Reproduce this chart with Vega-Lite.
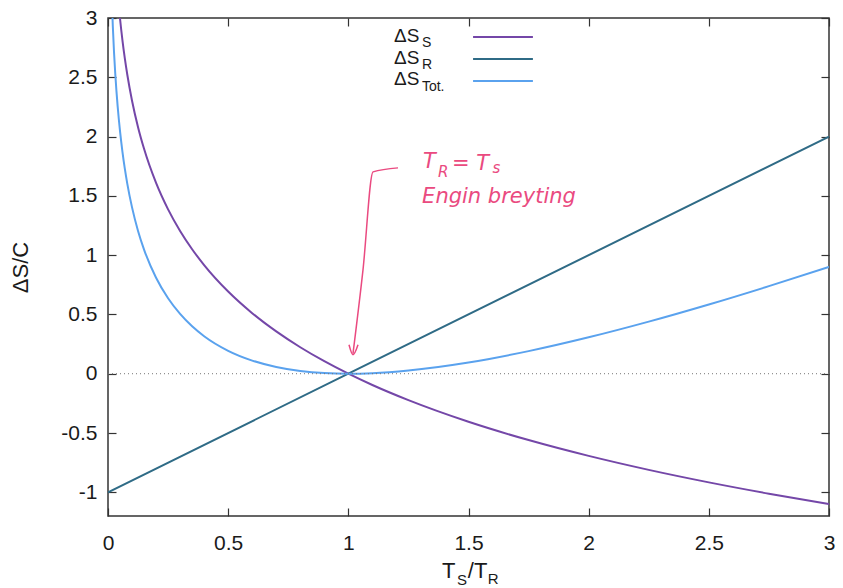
{
  "$schema": "https://vega.github.io/schema/vega-lite/v6.json",
  "width": 721,
  "height": 498,
  "autosize": {"type": "none"},
  "padding": {"left": 108, "top": 18, "right": 14, "bottom": 72},
  "background": "white",
  "config": {
    "font": "Liberation Sans",
    "view": {"stroke": "#333333", "strokeWidth": 1.5},
    "axis": {
      "grid": false,
      "domain": false,
      "tickColor": "#333333",
      "tickWidth": 1.2,
      "labelFont": "Liberation Sans",
      "labelFontSize": 21,
      "labelColor": "#1a1a1a",
      "titleFont": "Liberation Sans",
      "titleFontWeight": "normal",
      "titleFontSize": 22,
      "titleColor": "#1a1a1a"
    }
  },
  "datasets": {
    "curves": [
      {"x": 0.015, "y": 4.1997, "s": "S"},
      {"x": 0.02, "y": 3.912, "s": "S"},
      {"x": 0.025, "y": 3.6889, "s": "S"},
      {"x": 0.03, "y": 3.5066, "s": "S"},
      {"x": 0.035, "y": 3.3524, "s": "S"},
      {"x": 0.04, "y": 3.2189, "s": "S"},
      {"x": 0.045, "y": 3.1011, "s": "S"},
      {"x": 0.05, "y": 2.9957, "s": "S"},
      {"x": 0.06, "y": 2.8134, "s": "S"},
      {"x": 0.07, "y": 2.6593, "s": "S"},
      {"x": 0.08, "y": 2.5257, "s": "S"},
      {"x": 0.1, "y": 2.3026, "s": "S"},
      {"x": 0.125, "y": 2.0794, "s": "S"},
      {"x": 0.15, "y": 1.8971, "s": "S"},
      {"x": 0.2, "y": 1.6094, "s": "S"},
      {"x": 0.25, "y": 1.3863, "s": "S"},
      {"x": 0.3, "y": 1.204, "s": "S"},
      {"x": 0.35, "y": 1.0498, "s": "S"},
      {"x": 0.4, "y": 0.9163, "s": "S"},
      {"x": 0.5, "y": 0.6931, "s": "S"},
      {"x": 0.6, "y": 0.5108, "s": "S"},
      {"x": 0.7, "y": 0.3567, "s": "S"},
      {"x": 0.8, "y": 0.2231, "s": "S"},
      {"x": 0.9, "y": 0.1054, "s": "S"},
      {"x": 1.0, "y": 0.0, "s": "S"},
      {"x": 1.1, "y": -0.0953, "s": "S"},
      {"x": 1.25, "y": -0.2231, "s": "S"},
      {"x": 1.5, "y": -0.4055, "s": "S"},
      {"x": 1.75, "y": -0.5596, "s": "S"},
      {"x": 2.0, "y": -0.6931, "s": "S"},
      {"x": 2.25, "y": -0.8109, "s": "S"},
      {"x": 2.5, "y": -0.9163, "s": "S"},
      {"x": 2.75, "y": -1.0116, "s": "S"},
      {"x": 3.0, "y": -1.0986, "s": "S"},
      {"x": 0.0, "y": -1.0, "s": "R"},
      {"x": 1.0, "y": 0.0, "s": "R"},
      {"x": 3.0, "y": 2.0, "s": "R"},
      {"x": 0.01, "y": 3.6152, "s": "Tot"},
      {"x": 0.015, "y": 3.2147, "s": "Tot"},
      {"x": 0.02, "y": 2.932, "s": "Tot"},
      {"x": 0.025, "y": 2.7139, "s": "Tot"},
      {"x": 0.03, "y": 2.5366, "s": "Tot"},
      {"x": 0.035, "y": 2.3874, "s": "Tot"},
      {"x": 0.04, "y": 2.2589, "s": "Tot"},
      {"x": 0.045, "y": 2.1461, "s": "Tot"},
      {"x": 0.05, "y": 2.0457, "s": "Tot"},
      {"x": 0.06, "y": 1.8734, "s": "Tot"},
      {"x": 0.07, "y": 1.7293, "s": "Tot"},
      {"x": 0.08, "y": 1.6057, "s": "Tot"},
      {"x": 0.1, "y": 1.4026, "s": "Tot"},
      {"x": 0.125, "y": 1.2044, "s": "Tot"},
      {"x": 0.15, "y": 1.0471, "s": "Tot"},
      {"x": 0.2, "y": 0.8094, "s": "Tot"},
      {"x": 0.25, "y": 0.6363, "s": "Tot"},
      {"x": 0.3, "y": 0.504, "s": "Tot"},
      {"x": 0.35, "y": 0.3998, "s": "Tot"},
      {"x": 0.4, "y": 0.3163, "s": "Tot"},
      {"x": 0.5, "y": 0.1931, "s": "Tot"},
      {"x": 0.6, "y": 0.1108, "s": "Tot"},
      {"x": 0.7, "y": 0.0567, "s": "Tot"},
      {"x": 0.8, "y": 0.0231, "s": "Tot"},
      {"x": 0.9, "y": 0.0054, "s": "Tot"},
      {"x": 1.0, "y": 0.0, "s": "Tot"},
      {"x": 1.1, "y": 0.0047, "s": "Tot"},
      {"x": 1.25, "y": 0.0269, "s": "Tot"},
      {"x": 1.5, "y": 0.0945, "s": "Tot"},
      {"x": 1.75, "y": 0.1904, "s": "Tot"},
      {"x": 2.0, "y": 0.3069, "s": "Tot"},
      {"x": 2.25, "y": 0.4391, "s": "Tot"},
      {"x": 2.5, "y": 0.5837, "s": "Tot"},
      {"x": 2.75, "y": 0.7384, "s": "Tot"},
      {"x": 3.0, "y": 0.9014, "s": "Tot"}
    ],
    "legendLines": [
      {"x": 1.519, "x2": 1.768, "y": 2.839, "s": "S"},
      {"x": 1.519, "x2": 1.768, "y": 2.654, "s": "R"},
      {"x": 1.519, "x2": 1.768, "y": 2.468, "s": "Tot"}
    ],
    "legendText": [
      {"x": 1.19, "y": 2.797, "t": "ΔS"},
      {"x": 1.19, "y": 2.612, "t": "ΔS"},
      {"x": 1.19, "y": 2.435, "t": "ΔS"}
    ],
    "legendSub": [
      {"x": 1.306, "y": 2.752, "t": "S"},
      {"x": 1.306, "y": 2.566, "t": "R"},
      {"x": 1.306, "y": 2.385, "t": "Tot."}
    ],
    "titleText": [
      {"x": 1.39, "y": -1.72, "t": "T"},
      {"x": 1.497, "y": -1.72, "t": "/T"}
    ],
    "titleSub": [
      {"x": 1.452, "y": -1.785, "t": "S"},
      {"x": 1.58, "y": -1.77, "t": "R"}
    ],
    "arrow": [
      {"x": 1.2067, "y": 1.736, "o": 1, "g": "shaft"},
      {"x": 1.1027, "y": 1.702, "o": 2, "g": "shaft"},
      {"x": 1.061, "y": 0.876, "o": 3, "g": "shaft"},
      {"x": 1.0194, "y": 0.17, "o": 4, "g": "shaft"},
      {"x": 1.0028, "y": 0.244, "o": 1, "g": "head"},
      {"x": 1.0194, "y": 0.16, "o": 2, "g": "head"},
      {"x": 1.0402, "y": 0.244, "o": 3, "g": "head"}
    ],
    "noteBig": [
      {"x": 1.311, "y": 1.736, "t": "T"},
      {"x": 1.431, "y": 1.72, "t": "= T"},
      {"x": 1.307, "y": 1.441, "t": "Engin breyting"}
    ],
    "noteSmall": [
      {"x": 1.373, "y": 1.66, "t": "R"},
      {"x": 1.6, "y": 1.694, "t": "s"}
    ]
  },
  "resolve": {"axis": {"x": "independent", "y": "independent"}},
  "layer": [
    {
      "data": {"name": "curves"},
      "mark": {"type": "line", "strokeWidth": 2, "clip": true, "interpolate": "monotone"},
      "encoding": {
        "x": {"field": "x", "type": "quantitative",
          "scale": {"domain": [0, 3], "nice": false, "zero": false},
          "axis": {"values": [0, 0.5, 1, 1.5, 2, 2.5, 3], "labelExpr": "'' + datum.value", "title": null, "tickSize": -8, "labelPadding": 24, "labelFlush": false}},
        "y": {"field": "y", "type": "quantitative",
          "scale": {"domain": [-1.2, 3], "nice": false, "zero": false},
          "axis": {"values": [-1, -0.5, 0, 0.5, 1, 1.5, 2, 2.5, 3], "labelExpr": "'' + datum.value", "title": "ΔS/C", "tickSize": -8, "labelPadding": 19, "titlePadding": 28, "labelFlush": false}},
        "color": {"field": "s", "type": "nominal",
          "scale": {"domain": ["S", "R", "Tot"], "range": ["#7447a8", "#2f6b86", "#5aa2ee"]},
          "legend": null}
      }
    },
    {
      "data": {"name": "curves"},
      "mark": {"type": "point", "opacity": 0},
      "encoding": {
        "x": {"field": "x", "type": "quantitative",
          "axis": {"orient": "top", "values": [0, 0.5, 1, 1.5, 2, 2.5, 3], "labels": false, "title": null, "tickSize": -8}},
        "y": {"field": "y", "type": "quantitative",
          "axis": {"orient": "right", "values": [-1, -0.5, 0, 0.5, 1, 1.5, 2, 2.5, 3], "labels": false, "title": null, "tickSize": -8}}
      }
    },
    {
      "data": {"values": [{"y": 0}]},
      "mark": {"type": "rule", "color": "#777777", "strokeWidth": 1, "strokeDash": [1, 3]},
      "encoding": {"y": {"field": "y", "type": "quantitative", "axis": null}}
    },
    {
      "data": {"name": "legendLines"},
      "mark": {"type": "rule", "strokeWidth": 2},
      "encoding": {
        "x": {"field": "x", "type": "quantitative", "axis": null},
        "x2": {"field": "x2"},
        "y": {"field": "y", "type": "quantitative", "axis": null},
        "color": {"field": "s", "type": "nominal", "legend": null}
      }
    },
    {
      "data": {"name": "legendText"},
      "mark": {"type": "text", "align": "left", "baseline": "alphabetic", "fontSize": 19, "color": "#1a1a1a"},
      "encoding": {
        "x": {"field": "x", "type": "quantitative", "axis": null},
        "y": {"field": "y", "type": "quantitative", "axis": null},
        "text": {"field": "t"}
      }
    },
    {
      "data": {"name": "legendSub"},
      "mark": {"type": "text", "align": "left", "baseline": "alphabetic", "fontSize": 14, "color": "#1a1a1a"},
      "encoding": {
        "x": {"field": "x", "type": "quantitative", "axis": null},
        "y": {"field": "y", "type": "quantitative", "axis": null},
        "text": {"field": "t"}
      }
    },
    {
      "data": {"name": "titleText"},
      "mark": {"type": "text", "align": "left", "baseline": "alphabetic", "fontSize": 22, "color": "#1a1a1a"},
      "encoding": {
        "x": {"field": "x", "type": "quantitative", "axis": null},
        "y": {"field": "y", "type": "quantitative", "axis": null},
        "text": {"field": "t"}
      }
    },
    {
      "data": {"name": "titleSub"},
      "mark": {"type": "text", "align": "left", "baseline": "alphabetic", "fontSize": 15, "color": "#1a1a1a"},
      "encoding": {
        "x": {"field": "x", "type": "quantitative", "axis": null},
        "y": {"field": "y", "type": "quantitative", "axis": null},
        "text": {"field": "t"}
      }
    },
    {
      "data": {"name": "arrow"},
      "mark": {"type": "line", "color": "#ea4a80", "strokeWidth": 1.5, "interpolate": "monotone"},
      "encoding": {
        "x": {"field": "x", "type": "quantitative", "axis": null},
        "y": {"field": "y", "type": "quantitative", "axis": null},
        "detail": {"field": "g"},
        "order": {"field": "o"}
      }
    },
    {
      "data": {"name": "noteBig"},
      "mark": {"type": "text", "align": "left", "baseline": "alphabetic", "fontSize": 21, "fontStyle": "italic", "font": "DejaVu Sans", "color": "#ea4a80"},
      "encoding": {
        "x": {"field": "x", "type": "quantitative", "axis": null},
        "y": {"field": "y", "type": "quantitative", "axis": null},
        "text": {"field": "t"}
      }
    },
    {
      "data": {"name": "noteSmall"},
      "mark": {"type": "text", "align": "left", "baseline": "alphabetic", "fontSize": 15, "fontStyle": "italic", "font": "DejaVu Sans", "color": "#ea4a80"},
      "encoding": {
        "x": {"field": "x", "type": "quantitative", "axis": null},
        "y": {"field": "y", "type": "quantitative", "axis": null},
        "text": {"field": "t"}
      }
    }
  ]
}
